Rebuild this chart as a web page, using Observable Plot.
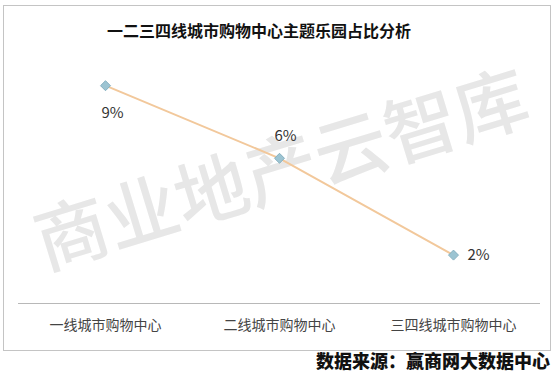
<!DOCTYPE html>
<html>
<head>
<meta charset="utf-8">
<script src="https://cdn.jsdelivr.net/npm/d3@7"></script>
<script src="https://cdn.jsdelivr.net/npm/@observablehq/plot@0.6"></script>
<style>
  body { margin: 0; background: #fff; font-family: "Noto Sans CJK SC", sans-serif; }
  #wrap { position: relative; width: 560px; height: 380px; overflow: hidden; }
  #frame { position: absolute; left: 3px; top: 5px; width: 548px; height: 346px; border: 1px solid #c4c4c4; box-sizing: border-box; }
  #title { position: absolute; left: 0; top: 18px; width: 518px; text-align: center; font-size: 16px; font-weight: 700; color: #111; }
  #wm { position: absolute; left: 280px; top: 165px; transform: translate(-50%, -50%) rotate(-17deg); font-size: 73px; line-height: 1; color: #e7e7e7; white-space: nowrap; font-family: "Noto Sans CJK SC", sans-serif; font-weight: 500; }
  #chart { position: absolute; left: 0; top: 0; }
  #caption { position: absolute; right: 10px; top: 347px; font-size: 18px; font-weight: 900; color: #111; font-family: "Noto Sans CJK SC", sans-serif; }
</style>
</head>
<body>
<div id="wrap">
  <div id="frame"></div>
  <div id="wm">商业地产云智库</div>
  <div id="title">一二三四线城市购物中心主题乐园占比分析</div>
  <div id="chart"></div>
  <div id="caption">数据来源：赢商网大数据中心</div>
</div>
<script>
const categories = ["一线城市购物中心", "二线城市购物中心", "三四线城市购物中心"];
const values = [9, 6, 2];
const labels = ["9%", "6%", "2%"];

const data = categories.map((c, i) => ({cat: c, v: values[i], label: labels[i]}));
const font = "Noto Sans CJK SC, sans-serif";

const chart = Plot.plot({
  width: 560,
  height: 352,
  marginTop: 61,
  marginBottom: 49,
  marginLeft: 18,
  marginRight: 20,
  style: {background: "transparent", fontFamily: font},
  x: {type: "point", domain: categories, padding: 0.5, label: null},
  y: {domain: [0, 10], axis: null},
  marks: [
    Plot.ruleY([0], {stroke: "#b8b8b8", strokeWidth: 1}),
    Plot.axisX({tickSize: 0, tickPadding: 17, fontSize: 14, fill: "#444", label: null}),
    Plot.line(data, {x: "cat", y: "v", stroke: "#f2c89b", strokeWidth: 2}),
    Plot.dot(data, {x: "cat", y: "v", symbol: "diamond2", r: 4.5, fill: "#9cc4d2", stroke: "#86b0c0", strokeWidth: 1}),
    Plot.text(data.filter((d, i) => i === 0), {x: "cat", y: "v", text: "label", dx: 7, dy: 27, fontSize: 15, fill: "#333"}),
    Plot.text(data.filter((d, i) => i === 1), {x: "cat", y: "v", text: "label", dx: 6, dy: -22, fontSize: 15, fill: "#333"}),
    Plot.text(data.filter((d, i) => i === 2), {x: "cat", y: "v", text: "label", dx: 25, dy: 0, fontSize: 15, fill: "#333"})
  ]
});
document.getElementById("chart").appendChild(chart);
</script>
</body>
</html>
